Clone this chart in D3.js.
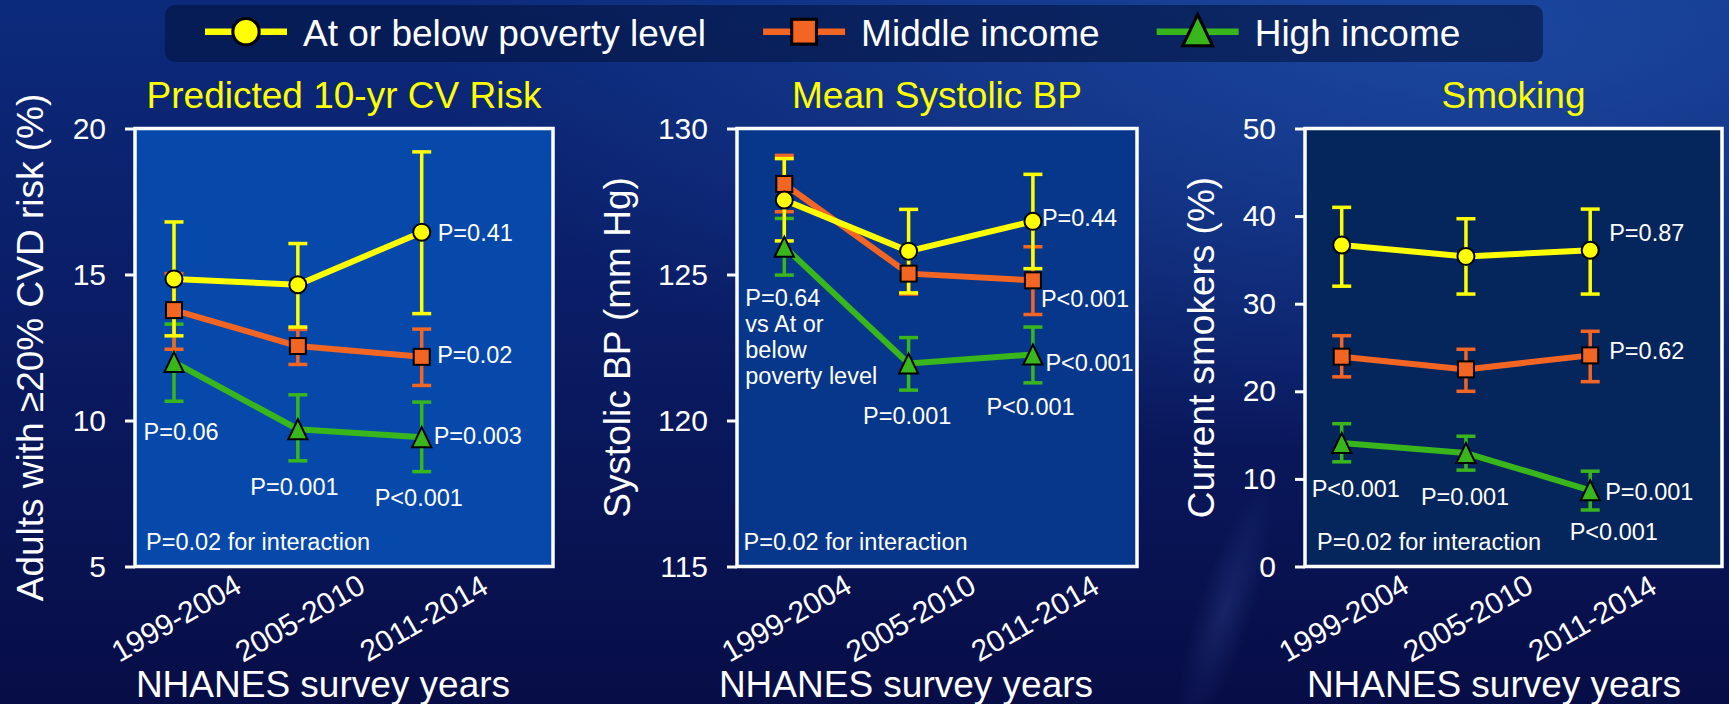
<!DOCTYPE html>
<html lang="en">
<head>
<meta charset="UTF-8">
<script src="https://cdn.jsdelivr.net/npm/d3@7"></script>
<style>
  html, body { margin: 0; padding: 0; background: #0a1a5c; overflow: hidden; }
  svg { display: block; font-family: "Liberation Sans", Arial, sans-serif; }
  text { fill: #fff; }
  .frame { fill: none; stroke: #fff; stroke-width: 3.5px; }
  .yaxis .domain { display: none; }
  .yaxis line { stroke: #fff; stroke-width: 3px; }
  .yaxis text { font-size: 30px; fill: #fff; }
  .title { font-size: 37px; fill: #ffff00; }
  .axis-title { font-size: 37px; }
  .note { font-size: 23.5px; }
</style>
</head>
<body>
<svg id="chart" width="1729" height="704"></svg>
<script>
const years = ["1999-2004", "2005-2010", "2011-2014"];
const groups = ["At or below poverty level", "Middle income", "High income"];

// Predicted 10-yr CV risk: adults with >=20% CVD risk (%)
const riskPoor   = [14.85, 14.65, 16.45];
const riskPoorLo = [12.9, 13.2, 13.66];
const riskPoorHi = [16.8, 16.06, 19.2];
const riskMid    = [13.78, 12.55, 12.18];
const riskMidLo  = [12.44, 11.92, 11.2];
const riskMidHi  = [15.03, 13.12, 13.13];
const riskHigh   = [12.0, 9.7, 9.43];
const riskHighLo = [10.66, 8.62, 8.25];
const riskHighHi = [13.3, 10.88, 10.63];
const riskTicks  = [5, 10, 15, 20];

// Mean systolic BP (mm Hg)
const sbpPoor   = [127.55, 125.8, 126.82];
const sbpPoorLo = [126.15, 124.37, 125.2];
const sbpPoorHi = [128.97, 127.23, 128.43];
const sbpMid    = [128.1, 125.03, 124.8];
const sbpMidLo  = [127.15, 124.33, 123.63];
const sbpMidHi  = [129.08, 125.73, 125.95];
const sbpHigh   = [125.95, 121.95, 122.26];
const sbpHighLo = [124.98, 121.04, 121.29];
const sbpHighHi = [126.92, 122.84, 123.2];
const sbpTicks  = [115, 120, 125, 130];

// Current smokers (%)
const smkPoor   = [36.7, 35.4, 36.1];
const smkPoorLo = [32.0, 31.1, 31.1];
const smkPoorHi = [41.0, 39.7, 40.8];
const smkMid    = [23.95, 22.5, 24.1];
const smkMidLo  = [21.65, 20.0, 21.1];
const smkMidHi  = [26.35, 24.8, 26.85];
const smkHigh   = [14.1, 12.95, 8.7];
const smkHighLo = [11.95, 11.0, 6.45];
const smkHighHi = [16.3, 14.87, 10.88];
const smkTicks  = [0, 10, 20, 30, 40, 50];

const colors = ["#ffff00", "#f26522", "#38b61c"];
const plotTop = 128.5, plotBottom = 566.5;

// note: {y: year index, g: group the label hangs off, dx, dy}
const panels = [
  {
    title: "Predicted 10-yr CV Risk", yLabel: "Adults with \u226520% CVD risk (%)",
    domain: [5, 20], ticks: riskTicks, left: 135, right: 553, x1: 174, x3: 421.7,
    fill: "#0649ab", yTitleX: 43, xTitleX: 323, interX: 146,
    series: [[riskPoor, riskPoorLo, riskPoorHi], [riskMid, riskMidLo, riskMidHi], [riskHigh, riskHighLo, riskHighHi]],
    notes: [
      {y: 2, g: 0, dx: 16, dy: 9, text: ["P=0.41"]},
      {y: 2, g: 1, dx: 15.5, dy: 6, text: ["P=0.02"]},
      {y: 2, g: 2, dx: 12, dy: 7, text: ["P=0.003"]},
      {y: 0, g: 2, dx: -30.5, dy: 78, text: ["P=0.06"]},
      {y: 1, g: 2, dx: -47.5, dy: 66, text: ["P=0.001"]},
      {y: 2, g: 2, dx: -47, dy: 68.5, text: ["P<0.001"]}
    ]
  },
  {
    title: "Mean Systolic BP", yLabel: "Systolic BP (mm Hg)",
    domain: [115, 130], ticks: sbpTicks, left: 737, right: 1137, x1: 784.3, x3: 1032.9,
    fill: "#07378a", yTitleX: 630, xTitleX: 906, interX: 743.5,
    series: [[sbpPoor, sbpPoorLo, sbpPoorHi], [sbpMid, sbpMidLo, sbpMidHi], [sbpHigh, sbpHighLo, sbpHighHi]],
    notes: [
      {y: 2, g: 0, dx: 9, dy: 4.6, text: ["P=0.44"]},
      {y: 2, g: 1, dx: 8, dy: 26.4, text: ["P<0.001"]},
      {y: 2, g: 2, dx: 12.5, dy: 16.2, text: ["P<0.001"]},
      {y: 0, g: 2, dx: -39, dy: 59.2, text: ["P=0.64", "vs At or", "below", "poverty level"]},
      {y: 1, g: 2, dx: -45.5, dy: 60.4, text: ["P=0.001"]},
      {y: 2, g: 2, dx: -46.5, dy: 60.5, text: ["P<0.001"]}
    ]
  },
  {
    title: "Smoking", yLabel: "Current smokers (%)",
    domain: [0, 50], ticks: smkTicks, left: 1305, right: 1722, x1: 1341.7, x3: 1590.2,
    fill: "#05265c", yTitleX: 1214, xTitleX: 1494, interX: 1317,
    series: [[smkPoor, smkPoorLo, smkPoorHi], [smkMid, smkMidLo, smkMidHi], [smkHigh, smkHighLo, smkHighHi]],
    notes: [
      {y: 2, g: 0, dx: 19, dy: -9.6, text: ["P=0.87"]},
      {y: 2, g: 1, dx: 19, dy: 3.6, text: ["P=0.62"]},
      {y: 0, g: 2, dx: -30, dy: 53.7, text: ["P<0.001"]},
      {y: 1, g: 2, dx: -45, dy: 52, text: ["P=0.001"]},
      {y: 2, g: 2, dx: 15, dy: 9.7, text: ["P=0.001"]},
      {y: 2, g: 2, dx: -20.5, dy: 49.7, text: ["P<0.001"]}
    ]
  }
];

const svg = d3.select("#chart");
const defs = svg.append("defs");

const bg = defs.append("linearGradient").attr("id", "bg").attr("x1", 0).attr("y1", 0).attr("x2", 0).attr("y2", 1);
bg.append("stop").attr("offset", "0%").attr("stop-color", "#0c2a7c");
bg.append("stop").attr("offset", "50%").attr("stop-color", "#0a1b62");
bg.append("stop").attr("offset", "100%").attr("stop-color", "#070d46");

const glow = defs.append("radialGradient").attr("id", "glow").attr("cx", "85%").attr("cy", "5%").attr("r", "60%");
glow.append("stop").attr("offset", "0%").attr("stop-color", "#2154ae").attr("stop-opacity", 0.7);
glow.append("stop").attr("offset", "100%").attr("stop-color", "#2154ae").attr("stop-opacity", 0);

const streak = defs.append("radialGradient").attr("id", "streak");
streak.append("stop").attr("offset", "0%").attr("stop-color", "#4a66b8").attr("stop-opacity", 0.22);
streak.append("stop").attr("offset", "100%").attr("stop-color", "#4a66b8").attr("stop-opacity", 0);

svg.append("rect").attr("width", 1729).attr("height", 704).attr("fill", "url(#bg)");
svg.append("rect").attr("width", 1729).attr("height", 704).attr("fill", "url(#glow)");
svg.append("ellipse").attr("cx", 1225).attr("cy", 610).attr("rx", 28).attr("ry", 130)
  .attr("transform", "rotate(18,1225,610)").attr("fill", "url(#streak)");

// marker shapes, shared by legend and panels
function marker(sel, g, s) {
  const c = colors[g];
  if (g === 0) {
    sel.append("circle").attr("r", 8.5 * s).attr("fill", c).attr("stroke", "#000").attr("stroke-width", 2 * s);
  } else if (g === 1) {
    sel.append("rect").attr("x", -8 * s).attr("y", -8 * s).attr("width", 16 * s).attr("height", 16 * s)
      .attr("fill", c).attr("stroke", "#000").attr("stroke-width", 2 * s);
  } else {
    const w = 9.6 * s, h = 10 * s;
    sel.append("path").attr("d", `M0,${-h}L${w},${h}L${-w},${h}Z`)
      .attr("fill", c).attr("stroke", "#000").attr("stroke-width", 2 * s).attr("stroke-linejoin", "miter");
  }
}

// legend
svg.append("rect").attr("x", 165).attr("y", 5).attr("width", 1378).attr("height", 57).attr("rx", 10)
  .attr("fill", "#041440").attr("fill-opacity", 0.6);
let lx = 205;
groups.forEach((name, g) => {
  const item = svg.append("g").attr("transform", `translate(${lx},31.7)`);
  item.append("line").attr("x1", 0).attr("x2", 82).attr("stroke", colors[g]).attr("stroke-width", 6.5);
  marker(item.append("g").attr("transform", `translate(41,${g === 2 ? -1.5 : 0})`), g, 1.55);
  const t = item.append("text").attr("x", 98).attr("y", 14).style("font-size", "37px").text(name);
  lx += 98 + t.node().getComputedTextLength() + 57;
});

panels.forEach(p => {
  const x = d3.scalePoint().domain(years).range([p.x1, p.x3]);
  const y = d3.scaleLinear().domain(p.domain).range([plotBottom, plotTop]);
  const g = svg.append("g");

  g.append("rect").attr("x", p.left).attr("y", plotTop).attr("width", p.right - p.left).attr("height", plotBottom - plotTop)
    .attr("fill", p.fill);

  g.append("g").attr("class", "yaxis").attr("transform", `translate(${p.left},0)`)
    .call(d3.axisLeft(y).tickValues(p.ticks).tickSize(10).tickPadding(19));

  g.append("rect").attr("class", "frame").attr("x", p.left).attr("y", plotTop)
    .attr("width", p.right - p.left).attr("height", plotBottom - plotTop);

  g.append("text").attr("class", "title").attr("x", (p.left + p.right) / 2).attr("y", 108)
    .attr("text-anchor", "middle").text(p.title);

  g.append("text").attr("class", "axis-title").attr("text-anchor", "middle")
    .attr("transform", `translate(${p.yTitleX},${(plotTop + plotBottom) / 2}) rotate(-90)`).text(p.yLabel);

  years.forEach(yr => {
    g.append("text").attr("text-anchor", "middle").attr("dominant-baseline", "central")
      .style("font-size", "30px")
      .attr("transform", `translate(${x(yr) + 2},618) rotate(-30)`).text(yr);
  });

  g.append("text").attr("class", "axis-title").attr("x", p.xTitleX).attr("y", 697)
    .attr("text-anchor", "middle").text("NHANES survey years");

  const order = [2, 1, 0];
  // error bars
  order.forEach(k => {
    const [mid, lo, hi] = p.series[k];
    years.forEach((yr, i) => {
      const cx = x(yr);
      const eb = g.append("g").attr("stroke", colors[k]).attr("stroke-width", 3.5);
      eb.append("line").attr("x1", cx).attr("x2", cx).attr("y1", y(lo[i])).attr("y2", y(hi[i]));
      eb.append("line").attr("x1", cx - 9.5).attr("x2", cx + 9.5).attr("y1", y(lo[i])).attr("y2", y(lo[i]));
      eb.append("line").attr("x1", cx - 9.5).attr("x2", cx + 9.5).attr("y1", y(hi[i])).attr("y2", y(hi[i]));
    });
  });
  // lines
  order.forEach(k => {
    const mid = p.series[k][0];
    g.append("path").datum(mid)
      .attr("d", d3.line().x((d, i) => x(years[i])).y(d => y(d)))
      .attr("fill", "none").attr("stroke", colors[k]).attr("stroke-width", 6).attr("stroke-linejoin", "round");
  });
  // markers
  order.forEach(k => {
    const mid = p.series[k][0];
    mid.forEach((v, i) => {
      marker(g.append("g").attr("transform", `translate(${x(years[i])},${y(v)})`), k, 1);
    });
  });

  // p-values
  p.notes.forEach(n => {
    const t = g.append("text").attr("class", "note")
      .attr("x", x(years[n.y]) + n.dx).attr("y", y(p.series[n.g][0][n.y]) + n.dy);
    n.text.forEach((line, j) => {
      t.append("tspan").attr("x", x(years[n.y]) + n.dx).attr("dy", j === 0 ? 0 : 26).text(line);
    });
  });
  g.append("text").attr("class", "note").attr("x", p.interX).attr("y", 550).text("P=0.02 for interaction");
});
</script>
</body>
</html>
